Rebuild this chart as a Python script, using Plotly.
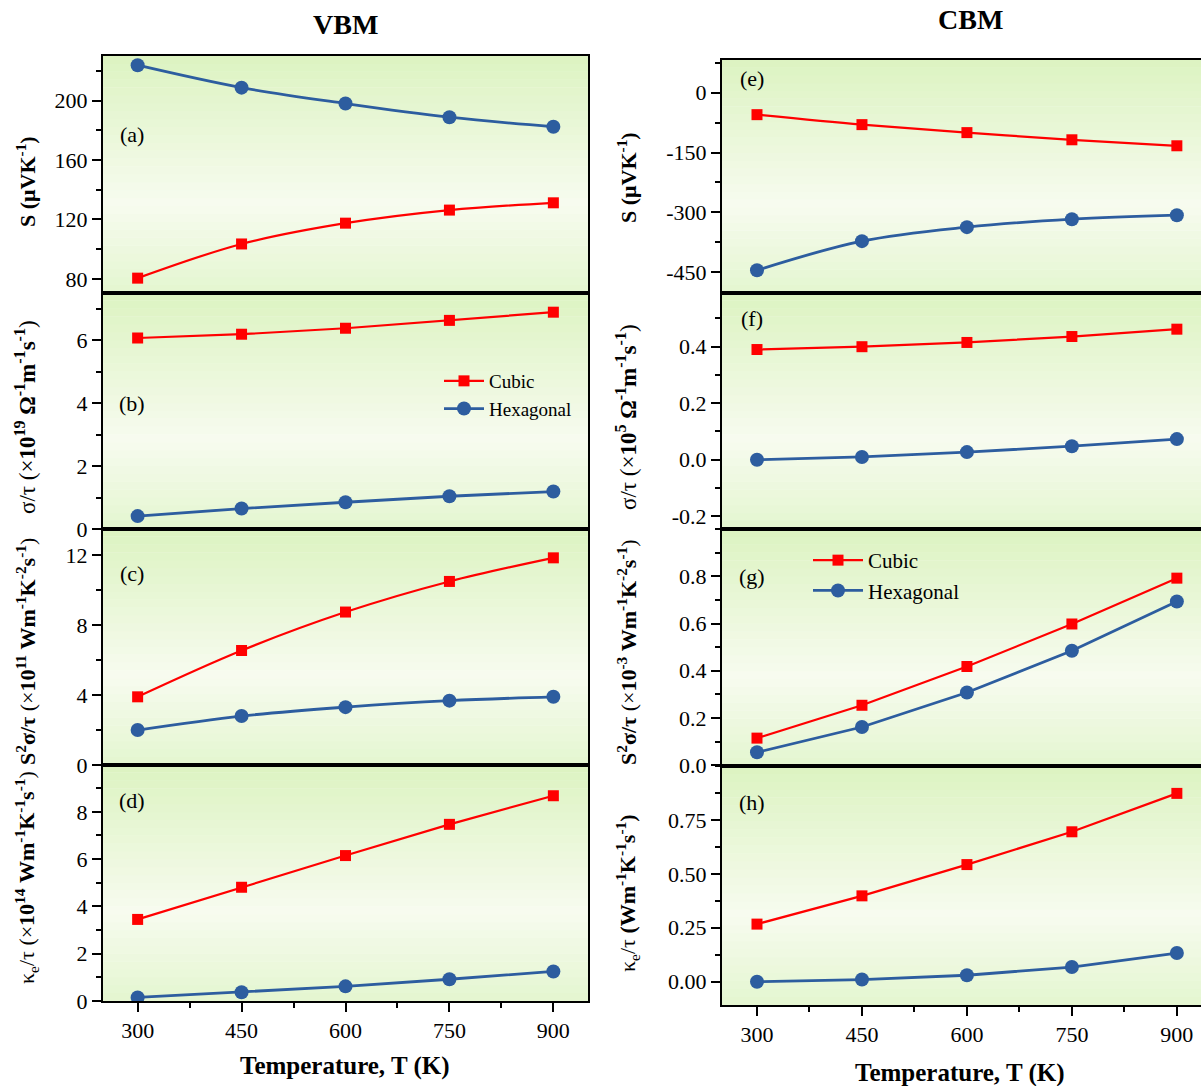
import plotly.graph_objects as go

W, H = 1201, 1086
FIG_H = 1099
T = [300, 450, 600, 750, 900]

# VBM (left column)
S_cub_vbm = [80.5, 103.5, 117.5, 126.3, 131.2]
S_hex_vbm = [223.8, 208.7, 198.0, 188.8, 182.4]
sig_cub_vbm = [6.07, 6.19, 6.38, 6.63, 6.89]
sig_hex_vbm = [0.41, 0.65, 0.85, 1.04, 1.19]
pf_cub_vbm = [3.9, 6.55, 8.75, 10.5, 11.85]
pf_hex_vbm = [2.0, 2.8, 3.31, 3.68, 3.9]
ke_cub_vbm = [3.45, 4.81, 6.15, 7.47, 8.68]
ke_hex_vbm = [0.15, 0.37, 0.62, 0.92, 1.25]

# CBM (right column)
S_cub_cbm = [-55, -80, -100, -118, -133]
S_hex_cbm = [-445, -372, -337, -317, -307]
sig_cub_cbm = [0.39, 0.40, 0.415, 0.436, 0.462]
sig_hex_cbm = [0.0, 0.01, 0.027, 0.048, 0.073]
pf_cub_cbm = [0.115, 0.254, 0.418, 0.598, 0.792]
pf_hex_cbm = [0.055, 0.162, 0.308, 0.485, 0.693]
ke_cub_cbm = [0.267, 0.398, 0.543, 0.695, 0.873]
ke_hex_cbm = [0.0, 0.01, 0.03, 0.068, 0.133]

x_ticks = [300, 450, 600, 750, 900]
ticks_a = [80, 120, 160, 200]
ticks_b = [0, 2, 4, 6]
ticks_c = [0, 4, 8, 12]
ticks_d = [0, 2, 4, 6, 8]
ticks_e = [-450, -300, -150, 0]
ticks_f = [-0.2, 0.0, 0.2, 0.4]
ticks_g = [0.0, 0.2, 0.4, 0.6, 0.8]
ticks_h = [0.0, 0.25, 0.5, 0.75]
text_e = ["-450", "-300", "-150", "0"]
text_f = ["-0.2", "0.0", "0.2", "0.4"]
text_g = ["0.0", "0.2", "0.4", "0.6", "0.8"]
text_h = ["0.00", "0.25", "0.50", "0.75"]

RED = "#ff0000"
BLUE = "#2d5d9f"
FONT = "Liberation Serif"


def px(x):
    return x / W


def py(y):
    return 1 - y / H


panels = [
    (S_cub_vbm, S_hex_vbm, ticks_a, [str(v) for v in ticks_a], [70.5, 230], 20, "L", 56, 293, True,
     "<b>S (μVK<sup>-1</sup>)</b>", 182, "(a)", (132, 135), 22),
    (sig_cub_vbm, sig_hex_vbm, ticks_b, [str(v) for v in ticks_b], [0, 7.5], 1, "L", 293, 529, False,
     "σ/τ (×<b>10<sup>19</sup> Ω<sup>-1</sup>m<sup>-1</sup>s<sup>-1</sup></b>)", 417, "(b)", (132, 404), 23),
    (pf_cub_vbm, pf_hex_vbm, ticks_c, [str(v) for v in ticks_c], [0, 13.5], 2, "L", 529, 765, True,
     "<b>S<sup>2</sup>σ/τ</b> (×<b>10<sup>11</sup> Wm<sup>-1</sup>K<sup>-2</sup>s<sup>-1</sup></b>)", 652, "(c)", (132, 573), 22),
    (ke_cub_vbm, ke_hex_vbm, ticks_d, [str(v) for v in ticks_d], [0, 9.98], 1, "L", 765, 1001, False,
     "κ<sub>e</sub>/τ (×<b>10<sup>14</sup> Wm<sup>-1</sup>K<sup>-1</sup>s<sup>-1</sup></b>)", 878, "(d)", (132, 800), 22),
    (S_cub_cbm, S_hex_cbm, ticks_e, text_e, [-502, 82], 75, "R", 60, 293, True,
     "<b>S (μVK<sup>-1</sup>)</b>", 178, "(e)", (752, 78), 22),
    (sig_cub_cbm, sig_hex_cbm, ticks_f, text_f, [-0.245, 0.59], 0.1, "R", 293, 529, False,
     "σ/τ (×<b>10<sup>5</sup> Ω<sup>-1</sup>m<sup>-1</sup>s<sup>-1</sup></b>)", 417, "(f)", (752, 318), 23),
    (pf_cub_cbm, pf_hex_cbm, ticks_g, text_g, [-0.003, 1.0], 0.1, "R", 529, 766, False,
     "<b>S<sup>2</sup>σ/τ</b> (×<b>10<sup>-3</sup> Wm<sup>-1</sup>K<sup>-2</sup>s<sup>-1</sup></b>)", 652, "(g)", (752, 576), 22),
    (ke_cub_cbm, ke_hex_cbm, ticks_h, text_h, [-0.108, 1.0], 0.125, "R", 766, 1005, False,
     "κ<sub>e</sub>/τ <b>(Wm<sup>-1</sup>K<sup>-1</sup>s<sup>-1</sup>)</b>", 893, "(h)", (752, 802), 22),
]

fig = go.Figure()
layout = dict(
    width=W, height=FIG_H, margin=dict(l=0, r=0, t=0, b=0),
    paper_bgcolor="white", plot_bgcolor="rgba(0,0,0,0)",
    font=dict(family=FONT, color="black", size=20),
    showlegend=True,
)
shapes = []
annotations = []

N_BANDS = 30
c_top = (220, 243, 193)
c_mid = (247, 251, 239)
c_bot = (228, 246, 208)


def blend(c1, c2, t):
    return "rgb(%d,%d,%d)" % tuple(round(a + (b - a) * t) for a, b in zip(c1, c2))


for i, (cub, hexa, tv, tt, yr, mdt, side, top, bot, spl, ytitle, yc, lab, lpos, tsize) in enumerate(panels, start=1):
    xs = "x" if i == 1 else "x%d" % i
    ys = "y" if i == 1 else "y%d" % i
    xkey = "xaxis" if i == 1 else "xaxis%d" % i
    ykey = "yaxis" if i == 1 else "yaxis%d" % i
    if side == "L":
        xdom = [px(103), px(588)]
        xr = [250, 950]
        bottom_panel = (i == 4)
    else:
        xdom = [px(722), 1.0]
        xr = [250, 934.5]
        bottom_panel = (i == 8)
    shape_line = "spline" if spl else "linear"
    leg = None
    if i == 2:
        leg = "legend"
    elif i == 7:
        leg = "legend2"
    fig.add_trace(go.Scatter(
        x=T, y=cub, xaxis=xs, yaxis=ys, name="Cubic", mode="lines+markers",
        line=dict(color=RED, width=2.2, shape=shape_line),
        marker=dict(symbol="square", size=11, color=RED),
        showlegend=leg is not None, legend=leg if leg else "legend",
    ))
    fig.add_trace(go.Scatter(
        x=T, y=hexa, xaxis=xs, yaxis=ys, name="Hexagonal", mode="lines+markers",
        line=dict(color=BLUE, width=2.8, shape=shape_line),
        marker=dict(symbol="circle", size=14, color=BLUE),
        showlegend=leg is not None, legend=leg if leg else "legend",
    ))
    layout[xkey] = dict(
        domain=xdom, range=xr, anchor=ys, showline=True, linecolor="black", linewidth=2,
        mirror=True, showgrid=False, zeroline=False,
        tickvals=x_ticks, ticktext=[str(v) for v in x_ticks],
        ticks="outside" if bottom_panel else "", ticklen=9, tickwidth=2, tickcolor="black",
        showticklabels=bottom_panel, tickfont=dict(size=22, family=FONT),
        minor=dict(ticks="outside" if bottom_panel else "", dtick=75, tick0=0, ticklen=5,
                   tickwidth=2, tickcolor="black"),
    )
    layout[ykey] = dict(
        domain=[py(bot), py(top)], range=yr, anchor=xs, showline=True, linecolor="black",
        linewidth=2, mirror=(side == "L"), showgrid=False, zeroline=False,
        tickvals=tv, ticktext=tt, ticks="outside", ticklen=9, tickwidth=2, tickcolor="black",
        tickfont=dict(size=22, family=FONT),
        minor=dict(ticks="outside", dtick=mdt, tick0=0, ticklen=5, tickwidth=2, tickcolor="black"),
    )
    for k in range(N_BANDS):
        f0 = k / N_BANDS
        f1 = (k + 1) / N_BANDS
        t = 1 - (f0 + f1) / 2
        if t < 0.62:
            col = blend(c_top, c_mid, t / 0.62)
        else:
            col = blend(c_mid, c_bot, (t - 0.62) / 0.38)
        shapes.append(dict(type="rect", xref=xs + " domain", yref=ys + " domain",
                           x0=0, x1=1, y0=f0, y1=f1 + 0.002, fillcolor=col,
                           line=dict(width=0), layer="below"))
    tx = 26 if side == "L" else 627
    annotations.append(dict(text=ytitle, x=px(tx), y=py(yc), xref="paper", yref="paper",
                            textangle=-90, showarrow=False, xanchor="center", yanchor="middle",
                            font=dict(size=tsize, family=FONT)))
    annotations.append(dict(text=lab, x=px(lpos[0]), y=py(lpos[1]), xref="paper", yref="paper",
                            showarrow=False, xanchor="center", yanchor="middle",
                            font=dict(size=22, family=FONT)))

annotations += [
    dict(text="<b>VBM</b>", x=px(345), y=py(25), xref="paper", yref="paper", showarrow=False,
         xanchor="center", yanchor="middle", font=dict(size=28, family=FONT)),
    dict(text="<b>CBM</b>", x=px(970), y=py(20), xref="paper", yref="paper", showarrow=False,
         xanchor="center", yanchor="middle", font=dict(size=28, family=FONT)),
    dict(text="<b>Temperature, T (K)</b>", x=px(345), y=py(1066), xref="paper", yref="paper",
         showarrow=False, xanchor="center", yanchor="middle", font=dict(size=25, family=FONT)),
    dict(text="<b>Temperature, T (K)</b>", x=px(960), y=py(1073), xref="paper", yref="paper",
         showarrow=False, xanchor="center", yanchor="middle", font=dict(size=25, family=FONT)),
]

layout["legend"] = dict(x=px(439), y=py(362), xanchor="left", yanchor="top",
                        bgcolor="rgba(0,0,0,0)", font=dict(size=19, family=FONT),
                        itemwidth=40, tracegroupgap=0)
layout["legend2"] = dict(x=px(808), y=py(540), xanchor="left", yanchor="top",
                         bgcolor="rgba(0,0,0,0)", font=dict(size=21, family=FONT),
                         itemwidth=50, tracegroupgap=0)
layout["shapes"] = shapes
layout["annotations"] = annotations
fig.update_layout(**layout)
fig.write_html("out.html")
